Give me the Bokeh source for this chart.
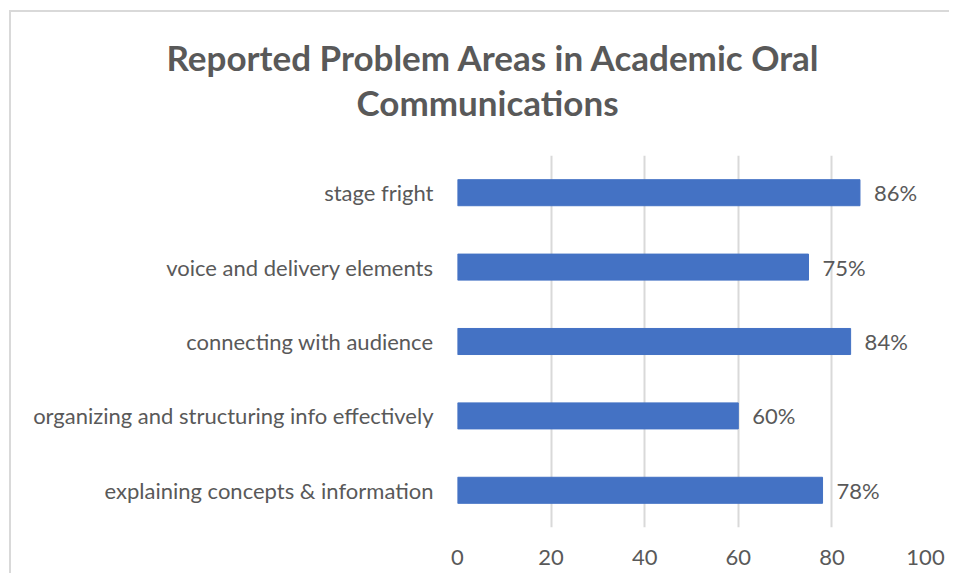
from bokeh.plotting import figure
from bokeh.models import Title, ColumnDataSource, FixedTicker
from bokeh.core.properties import value
from bokeh.embed import file_html
from bokeh.resources import INLINE

categories = ["explaining concepts & information", "organizing and structuring info effectively",
              "connecting with audience", "voice and delivery elements", "stage fright"]
values = [78, 60, 84, 75, 86]
labels = ["78%", "60%", "84%", "75%", "86%"]
x_ticks = [0, 20, 40, 60, 80, 100]
title_line1 = "Reported Problem Areas in Academic Oral"
title_line2 = "Communications"

FONT = "Lato"
GRAY = "#595959"

src = ColumnDataSource(dict(cat=categories, val=values, lab=labels))

p = figure(width=940, height=563, y_range=categories, x_range=(0, 100),
           output_backend="svg", toolbar_location=None,
           min_border_left=446, min_border_right=26, min_border_top=143, min_border_bottom=48)
p.styles = {"border-top": "2px solid #d9d9d9", "border-left": "2px solid #d9d9d9",
            "margin-left": "9px", "margin-top": "10px"}
p.outline_line_color = None

p.hbar(y="cat", right="val", left=0, height=0.35, source=src, color="#4472C4")
p.text(x="val", y="cat", text="lab", source=src, x_offset=14, text_baseline="middle",
       text_align="left", text_font=value(FONT), text_font_size="22px", text_color=GRAY)

p.xaxis.ticker = FixedTicker(ticks=x_ticks)
p.xgrid.ticker = FixedTicker(ticks=x_ticks)
p.xgrid.grid_line_color = "#d9d9d9"
p.xgrid.grid_line_width = 2
p.ygrid.grid_line_color = None
for ax in (p.xaxis, p.yaxis):
    ax.axis_line_color = None
    ax.major_tick_line_color = None
    ax.minor_tick_line_color = None
    ax.major_label_text_font = FONT
    ax.major_label_text_font_size = "22px"
    ax.major_label_text_color = GRAY
p.xaxis.major_label_standoff = 16
p.yaxis.major_label_standoff = 18

# spacer between plot area and title
p.add_layout(Title(text=" ", text_font_size="26px", standoff=0), "above")
p.add_layout(Title(text=title_line2, align="left", offset=-101, text_font=FONT,
                   text_font_size="35px", text_font_style="bold", text_color=GRAY,
                   standoff=1), "above")
p.add_layout(Title(text=title_line1, align="left", offset=-291, text_font=FONT,
                   text_font_size="35px", text_font_style="bold", text_color=GRAY,
                   standoff=1), "above")

open("out.html", "w").write(file_html(p, INLINE))
